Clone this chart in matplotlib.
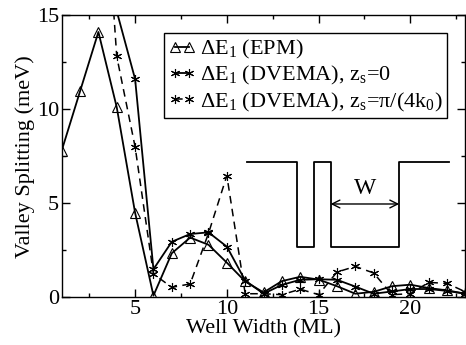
import matplotlib
matplotlib.use("Agg")
import matplotlib.pyplot as plt
from matplotlib.ticker import MultipleLocator

plt.rcParams['font.family'] = ['Liberation Serif', 'DejaVu Serif']
plt.rcParams['mathtext.fontset'] = 'custom'
plt.rcParams['mathtext.rm'] = 'Liberation Serif'
plt.rcParams['mathtext.it'] = 'Liberation Serif:italic'

# Valley splitting vs. well width (monolayers)
width_epm = list(range(1, 24))
split_epm = [7.8, 10.95, 14.1, 10.1, 4.5, 0.1, 2.35, 3.18, 2.8, 1.85, 0.85,
             0.27, 0.87, 1.1, 0.95, 0.6, 0.2, 0.3, 0.6, 0.68, 0.5, 0.38, 0.2]

width_dvema = list(range(4, 24))
split_dvema_z0 = [15.2, 11.6, 1.5, 2.96, 3.37, 3.46, 2.7, 0.9, 0.2, 0.67,
                  0.94, 0.97, 0.94, 0.58, 0.2, 0.32, 0.45, 0.45, 0.35, 0.2]

width_dvema_pi = list(range(3, 24))
split_dvema_pi = [27.0, 12.8, 8.0, 1.25, 0.54, 0.72, 3.41, 6.47, 0.2, 0.2,
                  0.15, 0.44, 0.15, 1.35, 1.65, 1.3, 0.15, 0.2, 0.8, 0.75, 0.3]

labels = [r'ΔE$_1$ (EPM)',
          r'ΔE$_1$ (DVEMA), z$_\mathrm{s}$=0',
          r'ΔE$_1$ (DVEMA), z$_\mathrm{s}$=π/(4k$_0$)']

fig = plt.figure(figsize=(4.66, 3.45), dpi=100)
ax = fig.add_axes([0.1324, 0.1377, 0.8663, 0.8188])

star = (6, 2, 0)
ax.plot(width_epm, split_epm, color='black', lw=1.3, marker='^',
        markersize=7, markerfacecolor='none', markeredgewidth=0.8,
        label=labels[0])
ax.plot(width_dvema, split_dvema_z0, color='black', lw=1.3, marker=star,
        markersize=6.5, markeredgewidth=0.8, label=labels[1])
ax.plot(width_dvema_pi, split_dvema_pi, color='black', lw=1.1,
        linestyle=(0, (5, 3.5)), marker=star, markersize=6.5,
        markeredgewidth=0.8, label=labels[2])

ax.set_xlim(1, 23)
ax.set_ylim(0, 15)
ax.xaxis.set_major_locator(MultipleLocator(5))
ax.xaxis.set_minor_locator(MultipleLocator(2.5))
ax.yaxis.set_major_locator(MultipleLocator(5))
ax.yaxis.set_minor_locator(MultipleLocator(2.5))
ax.tick_params(which='both', direction='in', top=True, right=True,
               labelsize=16, width=1.0)
ax.tick_params(which='major', length=6, pad=2)
ax.tick_params(which='minor', length=3)
for s in ax.spines.values():
    s.set_linewidth(1.0)

ax.set_xlabel('Well Width (ML)', fontsize=16, labelpad=0)
ax.set_ylabel('Valley Splitting (meV)', fontsize=16, labelpad=1)

leg = ax.legend(loc='upper right', bbox_to_anchor=(0.954, 0.935),
                borderaxespad=0, fontsize=16, numpoints=2,
                handlelength=1.2, handletextpad=0.2, labelspacing=0.15,
                borderpad=0.2, fancybox=False, framealpha=1,
                edgecolor='black')
leg.get_frame().set_linewidth(1.0)

# Well profile sketch
tr = ax.transAxes
xs = [0.458, 0.584, 0.584, 0.626, 0.626, 0.666, 0.666, 0.836, 0.836, 0.960]
ys = [0.479, 0.479, 0.180, 0.180, 0.479, 0.479, 0.180, 0.180, 0.479, 0.479]
ax.plot(xs, ys, color='black', lw=1.3, transform=tr, clip_on=False)
ax.annotate('', xy=(0.666, 0.331), xytext=(0.836, 0.331), xycoords=tr,
            textcoords=tr,
            arrowprops=dict(arrowstyle='<->', color='black', lw=1.0,
                            shrinkA=0, shrinkB=0, mutation_scale=14))
ax.text(0.751, 0.385, 'W', transform=tr, fontsize=17, ha='center',
        va='center')

fig.savefig('out.png', dpi=100)
